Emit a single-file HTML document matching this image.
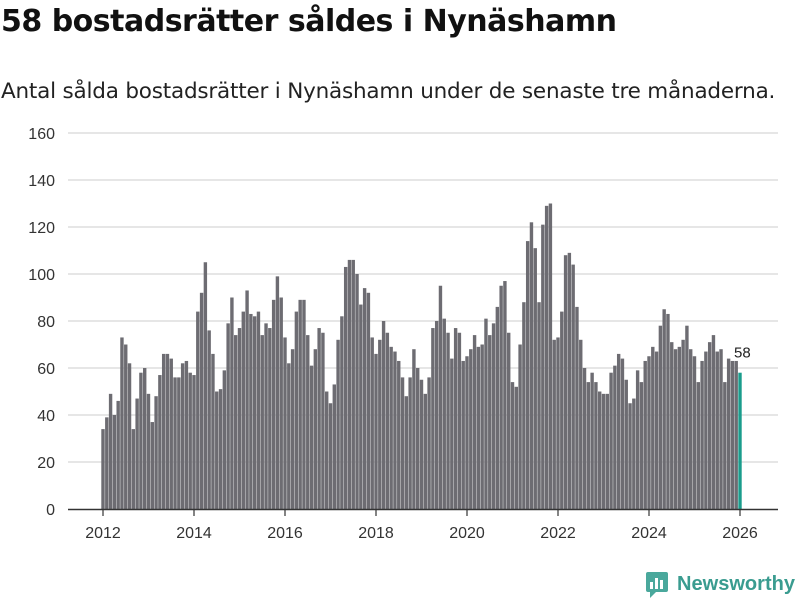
<!DOCTYPE html>
<html><head><meta charset="utf-8"><style>
body{margin:0;background:#fff;width:800px;height:600px;overflow:hidden;font-family:"Liberation Sans","DejaVu Sans",sans-serif}
#title{position:absolute;left:1px;top:4px;font-size:30px;font-weight:bold;color:#111;margin:0;font-family:"DejaVu Sans","Liberation Sans",sans-serif;letter-spacing:-0.5px}
#sub{position:absolute;left:1px;top:79px;font-size:21.5px;color:#222;font-family:"DejaVu Sans","Liberation Sans",sans-serif;letter-spacing:-0.2px;white-space:nowrap}
svg{position:absolute;left:0;top:0}
</style></head><body>
<h1 id="title">58 bostadsrätter såldes i Nynäshamn</h1>
<div id="sub">Antal sålda bostadsrätter i Nynäshamn under de senaste tre månaderna.</div>
<svg id="chart" width="800" height="600"></svg>
<script>
const startYear = 2012;
const values = [
34,39,49,40,46,73,70,62,34,47,58,60,
49,37,48,57,66,66,64,56,56,62,63,58,
57,84,92,105,76,66,50,51,59,79,90,74,
77,84,93,83,82,84,74,79,77,89,99,90,
73,62,68,84,89,89,74,61,68,77,75,50,
45,53,72,82,103,106,106,100,87,94,92,73,
66,72,80,75,69,67,63,56,48,56,68,60,
55,49,56,77,80,95,81,75,64,77,75,63,
65,68,74,69,70,81,74,79,86,95,97,75,
54,52,70,88,114,122,111,88,121,129,130,72,
73,84,108,109,104,86,72,60,54,58,54,50,
49,49,58,61,66,64,55,45,47,59,54,63,
65,69,67,78,85,83,71,68,69,72,78,68,
65,54,63,67,71,74,67,68,54,64,63,63,
58];
const yTicks = [0,20,40,60,80,100,120,140,160];
const xTicks = [2012,2014,2016,2018,2020,2022,2024,2026];
const NS = "http://www.w3.org/2000/svg";
const svg = document.getElementById('chart');
const y = v => 509 - v * (376/160);
const x = yr => 103 + (yr - 2012) * (637/14);
function mk(tag, attrs){const e=document.createElementNS(NS,tag);for(const k in attrs)e.setAttribute(k,attrs[k]);svg.appendChild(e);return e;}
yTicks.forEach(t=>{
  if(t>0){const g=mk('line',{x1:68,x2:778,y1:y(t),y2:y(t),stroke:'#dedede','stroke-width':1.5});
  
  }
  const l=mk('text',{x:55,y:y(t)+6,'text-anchor':'end','font-size':16,fill:'#333'});
  l.textContent=t;
  
  
});
values.forEach((v,i)=>{
  const cx = x(startYear + i/12);
  const last = i===values.length-1;
  const r=mk('rect',{x:cx-1.7,y:y(v),width:3.4,height:509-y(v),fill:last?'#1a9c8c':'#6d6c72'});
  
  
  if(last){
    const t=mk('text',{x:cx-6,y:y(v)-15,'font-size':15,fill:'#222'});
    t.textContent=v;
    
    
  }
});
const ax=mk('line',{x1:68,x2:778,y1:509.5,y2:509.5,stroke:'#333','stroke-width':1.5});


xTicks.forEach(t=>{
  const tk=mk('line',{x1:x(t),x2:x(t),y1:510,y2:516,stroke:'#333','stroke-width':1.2});
  
  
  const l=mk('text',{x:x(t),y:538,'text-anchor':'middle','font-size':16,fill:'#333'});
  l.textContent=t;
  
  
});
</script>
<svg width="800" height="600" style="pointer-events:none">
<rect x="646" y="572" width="22" height="20" rx="2" fill="#4aa89c"/>
<polygon points="650,592 656,592 650,598" fill="#4aa89c"/>
<rect x="650" y="582" width="3" height="7" fill="#fff"/><rect x="655" y="578" width="3" height="11" fill="#fff"/><rect x="660" y="580" width="3" height="9" fill="#fff"/>
<text x="677" y="590" font-size="20" font-weight="bold" fill="#3a9c90" textLength="118" lengthAdjust="spacingAndGlyphs" font-family="Liberation Sans, DejaVu Sans, sans-serif">Newsworthy</text>
</svg>
</body></html>
